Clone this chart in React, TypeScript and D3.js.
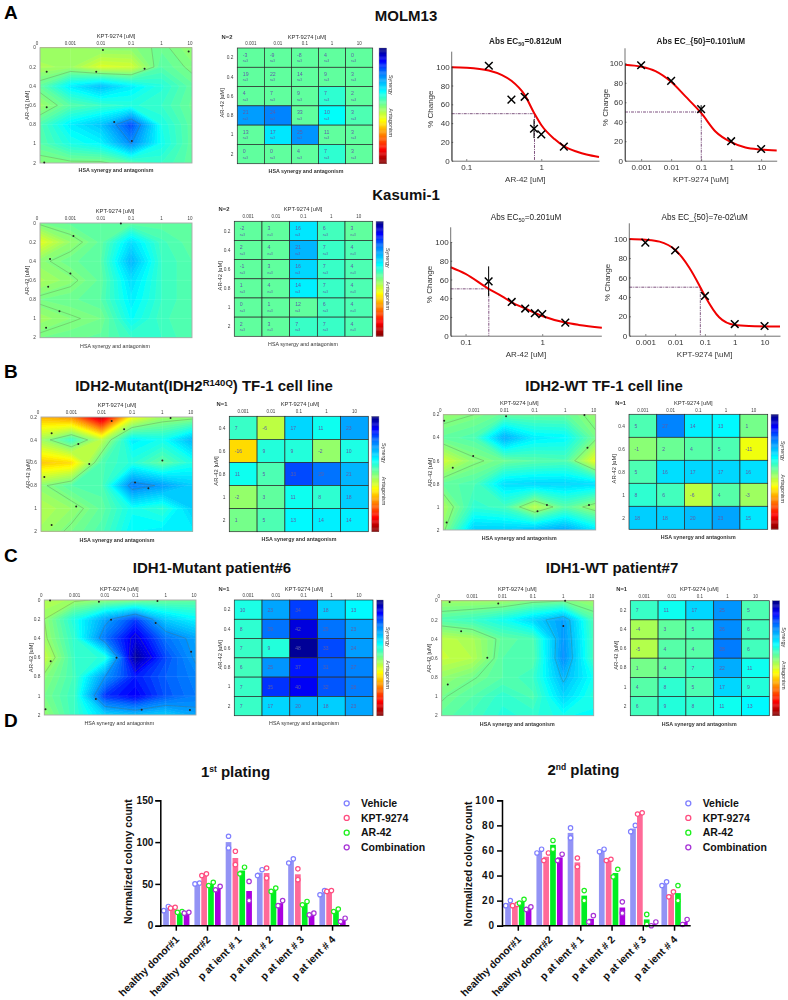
import React, { useLayoutEffect, useRef } from "react";
import * as d3 from "d3";

const FONT = "'Liberation Sans', Arial, sans-serif";

// ---------- synergy data (labels, then fill values where they differ) ----------
const kptCols = ["0.001", "0.01", "0.1", "1", "10"];
const kptColsZero = ["0", "0.001", "0.01", "0.1", "1", "10"];
const arRows6 = ["0.2", "0.4", "0.6", "0.8", "1", "2"];
const arRows5 = ["0.4", "0.6", "0.8", "1", "2"];
const arRows7 = ["0", "0.2", "0.4", "0.6", "0.8", "1", "2"];

const molmHeat = [[-3, -9, -8, 4, 0], [19, 22, 14, 9, 3], [4, 7, 9, 7, 2], [21, 24, 33, 10, 3], [13, 17, 25, 11, 3], [0, 0, 4, 7, 3]];
const molmFill = [[3, 3, 3, 3, 3], [3, 3, 3, 3, 3], [3, 3, 3, 8, 3], [24, 27, 3, 12, 5], [3, 15, 25, 3, 3], [3, 3, 3, 8, 3]];
const kasumiHeat = [[-2, 3, 16, 6, 3], [2, 4, 21, 7, 4], [-1, 3, 16, 7, 4], [1, 4, 14, 7, 4], [0, 1, 12, 6, 4], [2, 3, 7, 7, 4]];
const kasumiFill = [[3, 3, 15, 6, 3], [3, 3, 21, 7, 5], [3, 3, 17, 7, 5], [3, 3, 14, 7, 5], [3, 3, 3, 6, 5], [3, 3, 7, 7, 5]];
const tfMutHeat = [[7, -6, 17, 11, 23], [-16, 9, 9, -2, 10], [11, 5, 33, 29, 21], [-2, 3, 11, 8, 18], [1, 5, 13, 14, 14]];
const tfWtHeat = [[5, 27, 14, 13, 1], [-1, 2, 4, 5, -11], [5, 16, 17, 17, 16], [8, 6, -6, 4, -3], [18, 18, 20, 23, 15]];
const p6Heat = [[10, 23, 34, 18, 13], [8, 29, 42, 29, 23], [7, 9, 48, 33, 24], [6, 25, 37, 31, 27], [7, 35, 40, 32, 28], [7, 17, 20, 18, 23]];
const p7Heat = [[7, 11, 17, 25, 5], [-4, 3, 5, 26, 6], [-5, 4, 4, 28, 6], [1, 4, 7, 22, 11], [4, 8, 5, 17, 9], [6, 9, 8, 11, 13]];

const molmSurface = [[-2, -3, -1, -1, 2, -2], [-4, -3, -9, -8, 4, 0], [3, 14, 20, 14, 9, 3], [-3, 4, 7, 9, 7, 2], [5, 14, 19, 33, 10, 3], [4, 10, 13, 26, 11, 3], [-1, 0, 0, 4, 7, 3]];
const kasumiSurface = [[1, 3, 3, 3, 3, 3], [-10, -2, 3, 16, 6, 3], [-1, 2, 4, 21, 7, 4], [-4, -1, 3, 16, 7, 4], [1, 2, 4, 14, 7, 4], [-3, -0.5, 1, 12, 6, 4], [1, 2, 3, 7, 7, 4]];
const tfMutSurface = [[-20, -24, -45, -12, -3, -2], [-3, 7, -6, 14, 11, 21], [-18, -16, 5, 9, 3, 10], [-1, 4, 5, 28, 24, 18], [-5, -2, 3, 11, 8, 18], [-3, 1, 5, 13, 14, 14]];
const tfWtSurface = [[-2, 0, 3, 3, 3, -2], [3, 5, 22, 14, 13, 1], [-8, -1, 2, 4, 5, -11], [3, 5, 16, 17, 17, 16], [-4, 8, 6, -6, 4, -3], [-1, 18, 18, 20, 23, 15]];
const p6Surface = [[-5, -3, -1, 0, 2, 3], [-2, 10, 23, 34, 18, 13], [-3, 8, 29, 42, 29, 23], [-7, 7, 9, 48, 33, 24], [-1, 6, 25, 37, 31, 27], [1, 7, 35, 40, 32, 28], [-2, 7, 17, 20, 18, 23]];
const p7Surface = [[-3, -3, -3, 0, 1, -3], [5, 7, 11, 17, 24, 5], [-6, -4, 3, 5, 25, 6], [-7, -5, 4, 4, 26, 6], [-2, 1, 4, 7, 21, 11], [1, 4, 8, 5, 17, 9], [3, 6, 9, 8, 11, 13]];

// contour-label dots, in [column, row] grid units
const molmDots = [[.22, 1.25], [1.85, 1.25], [3.44, 1.1], [2.07, .12], [4.89, .2], [.22, 3.1], [.14, 5.97], [2.44, 3.86], [3.02, 4.86]];
const kasumiDots = [[1.1, .68], [.33, 1.88], [1, 2.64], [.27, 3.33], [.64, 4.62], [.2, 5.48], [2.66, .02]];
const tfMutDots = [[2.33, .17], [4.27, .04], [2.74, .54], [.35, .71], [1.23, 1.18], [1.59, 2.06], [.11, 2.62], [4, 1.9], [3.1, 2.87], [3.54, 3.12], [1.16, 3.92], [.35, 4.72]];
const tfWtDots = [[.03, .26], [2.06, .07], [4.63, .01], [.98, 1.79], [.31, 2.3], [4.73, 1.43], [3.4, 3.92], [3.09, 4.19], [4.78, 3.92], [.11, 4.68]];
const p6Dots = [[.19, .02], [1.8, .09], [3.73, .05], [2.2, 1.03], [3.67, 1.2], [2.38, 3.01], [4.84, 2.7], [.21, 3.2], [1.7, 5.17], [.04, 5.7], [3.21, 5.72], [4.8, 5.74]];
const p7Dots = [[.26, .07], [1.86, .14], [4.06, 0], [.64, 1.6], [1.5, 2.97], [.2, 4.37], [4, 1.32]];

// ---------- dose response ----------
const molmArPts = [[.2, 101, 0], [.4, 65, 0], [.6, 68, 0], [.8, 34, 10], [1, 28, 0], [2, 15, 0]];
const molmArCurve = [[.064, 99.5], [.1, 99], [.2, 96], [.3, 91], [.4, 85], [.6, 70], [.812, 50], [1, 38], [1.5, 23], [2, 15.5], [3, 9.5], [4, 6.5], [5.88, 4]];
const molmKptPts = [[.001, 98, 0], [.01, 82, 0], [.1, 53, 4], [1, 20, 0], [10, 12, 0]];
const molmKptCurve = [[.00029, 98.5], [.001, 96.5], [.003, 92], [.01, 81], [.03, 66], [.1, 49], [.3, 30], [1, 19], [3, 13.5], [10, 11.5], [33, 10.5]];
const kasArPts = [[.2, 58, 16], [.4, 36, 0], [.6, 29, 0], [.8, 24, 0], [1, 23, 0], [2, 14, 0]];
const kasArCurve = [[.064, 73], [.1, 66], [.2, 50], [.3, 42], [.4, 35.5], [.6, 29], [1, 21], [2, 14], [3, 11.5], [6, 8.5]];
const kasKptPts = [[.001, 96, 0], [.01, 88, 0], [.1, 41, 0], [1, 12, 0], [10, 10, 0]];
const kasKptCurve = [[.00029, 99.8], [.001, 99], [.003, 97], [.01, 88.5], [.03, 70], [.07, 50], [.1, 41], [.3, 19], [1, 11], [3, 10], [33, 9.5]];
const arTicks = [0.1, 1];
const kptTicks = [0.001, 0.01, 0.1, 1, 10];
const pctTicks = [0, 20, 40, 60, 80, 100];

// ---------- colony assays ----------
const groups = ["healthy donor#1", "healthy donor#2", "p at ient # 1", "p at ient # 2", "p at ient # 3", "p at ient # 4"];
const treatments = ["Vehicle", "KPT-9274", "AR-42", "Combination"];
const barColors = ["#9393f5", "#ff6a98", "#00ee22", "#aa00e0"];
const dotColors = ["#7f7fff", "#ff4d80", "#1cf01c", "#a733d6"];
const firstVehicle = [[18, 23], [50, 51], [93, 107], [60, 67], [75, 80], [37, 42]];
const firstKpt = [[21, 22], [60, 62], [73, 89], [57, 69], [55, 68], [41, 42]];
const firstAr = [[16, 17], [48, 52], [62, 70], [41, 45], [25, 29], [17, 20]];
const firstCombo = [[15, 16], [43, 47], [30, 53], [24, 30], [13, 15], [5, 9]];
const secondVehicle = [[16, 20], [58, 61], [70, 78], [59, 61], [75, 80], [32, 35]];
const secondKpt = [[16, 17], [52, 58], [47, 54], [52, 53], [89, 90], [23, 27]];
const secondAr = [[18, 21], [61, 68], [20, 28], [39, 45], [1, 9], [20, 32]];
const secondCombo = [[13, 15], [52, 57], [3, 8], [10, 19], [0, 3], [1, 5]];

// ---------- helpers ----------
function jetChannel(t: number) {
  return Math.max(0, Math.min(1, 1.5 - Math.abs(4 * t)));
}
const colourWarp = d3.scaleLinear().domain([-50, 14, 30, 50]).range([-50, 14, 27, 50]);
function jet(v: number) {
  const t = (50 - colourWarp(v)) / 100;
  const r = jetChannel(t - 0.75);
  const g = jetChannel(t - 0.5);
  const b = jetChannel(t - 0.25);
  return d3.rgb(r * 255, g * 255, b * 255).formatHex();
}

function Axis({ axis, transform, decorate }: any) {
  const ref = useRef<SVGGElement>(null);
  useLayoutEffect(() => {
    const g = d3.select(ref.current!);
    g.call(axis);
    if (decorate) decorate(g);
  });
  return <g ref={ref} transform={transform} />;
}

let clipId = 0;

function SynergyContour({ surface, yLabels, dots, levels, x0, x1, y0, y1, bold, titleY, tickY, captionY, yLabelX, titleX }: any) {
  const nx = 6;
  const ny = surface.length;
  const values = surface.flat();
  const sx = d3.scaleLinear().domain([0.5, nx - 0.5]).range([x0, x1]);
  const sy = d3.scaleLinear().domain([0.5, ny - 0.5]).range([y0, y1]);
  const tx = d3.scalePoint<string>().domain(kptColsZero).range([x0, x1]);
  const ty = d3.scalePoint<string>().domain(yLabels).range([y0, y1]);
  const path = d3.geoPath(d3.geoTransform({ point(x: number, y: number) { (this as any).stream.point(sx(x), sy(y)); } }));
  const bands = d3.contours().size([nx, ny]).thresholds(d3.range(-50, 50, 1.5))(values);
  const lines = d3.contours().size([nx, ny]).thresholds(levels)(values);
  const id = `clip-${clipId++}`;
  const cx = (x0 + x1) / 2;
  return (
    <g>
      <clipPath id={id}><rect x={x0} y={y0} width={x1 - x0} height={y1 - y0} /></clipPath>
      <g clipPath={`url(#${id})`}>
        <rect x={x0} y={y0} width={x1 - x0} height={y1 - y0} fill={jet(d3.min(values) as number)} />
        {bands.map((b: any, i: number) => (
          <path key={i} d={path(b) as string} fill={jet(b.value + 0.75)} stroke="#ffffff" strokeOpacity={0.13} strokeWidth={0.3} />
        ))}
        {tx.domain().map((d) => <line key={d} x1={tx(d)} x2={tx(d)} y1={y0} y2={y1} stroke="#fff" strokeOpacity={0.18} strokeWidth={0.5} />)}
        {ty.domain().map((d) => <line key={d} x1={x0} x2={x1} y1={ty(d)} y2={ty(d)} stroke="#fff" strokeOpacity={0.18} strokeWidth={0.5} />)}
        {lines.map((b: any, i: number) => (
          <path key={i} d={path(b) as string} fill="none" stroke="#5a5a3c" strokeOpacity={0.45} strokeWidth={0.6} />
        ))}
      </g>
      <rect x={x0} y={y0} width={x1 - x0} height={y1 - y0} fill="none" stroke="#a8a8a8" strokeWidth={0.9} />
      {dots.map((d: number[], i: number) => <circle key={i} cx={sx(d[0] + 0.5)} cy={sy(d[1] + 0.5)} r={1} fill="#222" />)}
      {tx.domain().map((d, i) => (
        <text key={d} x={(tx(d) as number) + (i === 0 ? -3 : i === 5 ? -2 : 0)} y={tickY} fontSize={4.5} textAnchor="middle" fill="#444">{d}</text>
      ))}
      {ty.domain().map((d) => (
        <text key={d} x={x0 - 4} y={(ty(d) as number) + 1.7} fontSize={4.8} textAnchor="end" fill="#444">{d}</text>
      ))}
      <text x={titleX ?? cx} y={titleY} fontSize={5.8} textAnchor="middle" fill="#333">KPT-9274 [uM]</text>
      <text x={titleX ?? cx} y={captionY} fontSize={5.3} fontWeight={bold ? 700 : 400} textAnchor="middle" fill="#333">HSA synergy and antagonism</text>
      <text transform={`translate(${yLabelX},${(y0 + y1) / 2}) rotate(-90)`} fontSize={5.8} textAnchor="middle" fill="#333">AR-42 [uM]</text>
    </g>
  );
}

function SynergyHeat({ values, fill, yLabels, showN, nLabel, x0, x1, y0, y1, bx0, bx1, titleX, titleY, tickY, captionX, captionY, nX, bold, yLabelX }: any) {
  const cols = d3.scaleBand<string>().domain(kptCols).range([x0, x1]);
  const rows = d3.scaleBand<string>().domain(yLabels).range([y0, y1]);
  const colours = fill ?? values;
  const bar = d3.scaleLinear().domain([-50, 50]).range([y1, y0]);
  const stops = d3.range(-50, 50, 1);
  const barMid = (y0 + y1) / 2;
  return (
    <g>
      {yLabels.map((r: string, j: number) => kptCols.map((c, i) => (
        <g key={r + c}>
          <rect x={cols(c)} y={rows(r)} width={cols.bandwidth()} height={rows.bandwidth()} fill={jet(colours[j][i])} stroke="#2a2a2a" strokeWidth={0.7} />
          <text x={(cols(c) as number) + 5.5} y={(rows(r) as number) + (showN ? 8.5 : rows.bandwidth() / 2 + 2)} fontSize={showN ? 5.2 : 5} fill="#5d5da8">{values[j][i]}</text>
          {showN && <text x={(cols(c) as number) + 5.5} y={(rows(r) as number) + 14.2} fontSize={3} fill="#5d5da8">{nLabel}</text>}
        </g>
      )))}
      {stops.map((v) => (
        <rect key={v} x={bx0} width={bx1 - bx0} y={bar(v + 1)} height={Math.abs(bar(v) - bar(v + 1)) + 0.3} fill={jet(v + 0.5)} />
      ))}
      <rect x={bx0} y={y0} width={bx1 - bx0} height={y1 - y0} fill="none" stroke="#999" strokeWidth={0.4} />
      <text transform={`translate(${bx1 + 2.5},${barMid - 21}) rotate(90)`} fontSize={5.4} textAnchor="middle" fill="#333">Synergy</text>
      <text transform={`translate(${bx1 + 2.5},${barMid + 17}) rotate(90)`} fontSize={5.4} textAnchor="middle" fill="#333">Antagonism</text>
      {kptCols.map((c) => <text key={c} x={(cols(c) as number) + cols.bandwidth() / 2} y={tickY} fontSize={4.5} textAnchor="middle" fill="#444">{c}</text>)}
      {yLabels.map((r: string) => <text key={r} x={x0 - 4} y={(rows(r) as number) + rows.bandwidth() / 2 + 1.7} fontSize={4.8} textAnchor="end" fill="#444">{r}</text>)}
      <text x={titleX} y={titleY} fontSize={5.8} textAnchor="middle" fill="#333">KPT-9274 [uM]</text>
      <text x={nX} y={titleY} fontSize={5.8} fontWeight={700} textAnchor="middle" fill="#333">{showN ? "N=2" : "N=1"}</text>
      <text x={captionX} y={captionY} fontSize={5.3} fontWeight={bold ? 700 : 400} textAnchor="middle" fill="#333">HSA synergy and antagonism</text>
      <text transform={`translate(${yLabelX},${(y0 + y1) / 2 - 3}) rotate(-90)`} fontSize={5.8} textAnchor="middle" fill="#333">AR-42 [uM]</text>
    </g>
  );
}

function DoseResponse({ curve, pts, ec50, ticks, xDomain, x0, x1, yBottom, y100, yTop, label, title, titleY, labelY, yLabelX, bold }: any) {
  const x = d3.scaleLog().domain(xDomain).range([x0, x1]);
  const y = d3.scaleLinear().domain([0, 100]).range([yBottom, y100]);
  const line = d3.line<number[]>().x((d) => x(d[0])).y((d) => y(d[1])).curve(d3.curveMonotoneX);
  const cross = d3.symbol(d3.symbolTimes, 40);
  const decorate = (g: any) => {
    g.selectAll("text").attr("font-size", 8).attr("fill", "#333").attr("font-family", FONT);
    g.selectAll("line,path").attr("stroke", "#333").attr("stroke-width", 0.7);
    g.attr("font-family", FONT);
  };
  const cx = (x0 + x1) / 2;
  const xAxis = d3.axisBottom(x).tickValues(ticks).tickSizeInner(-1.5).tickSizeOuter(0).tickPadding(4).tickFormat((d: any) => String(d));
  const yAxis = d3.axisLeft(y).tickValues(pctTicks).tickSizeInner(-1.5).tickSizeOuter(0).tickPadding(2);
  return (
    <g>
      <path d={`M${x0},${y(50)}H${x(ec50)}V${yBottom}`} fill="none" stroke="#5e2a60" strokeWidth={0.8} strokeDasharray="3 1 1 1" />
      <path d={line(curve) as string} fill="none" stroke="#f00000" strokeWidth={2} />
      {pts.map((p: number[], i: number) => (
        <g key={i}>
          {p[2] > 0 && <line x1={x(p[0])} x2={x(p[0])} y1={y(p[1] - p[2])} y2={y(p[1] + p[2])} stroke="#000" strokeWidth={1} />}
          <path d={cross() as string} transform={`translate(${x(p[0])},${y(p[1])})`} stroke="#000" strokeWidth={1.5} fill="none" />
        </g>
      ))}
      <Axis axis={xAxis} transform={`translate(0,${yBottom})`} decorate={decorate} />
      <Axis axis={yAxis} transform={`translate(${x0},0)`} decorate={decorate} />
      <line x1={x0} x2={x0} y1={yBottom} y2={yTop} stroke="#333" strokeWidth={0.7} />
      <text x={cx} y={titleY} fontSize={8.2} textAnchor="middle" fontWeight={bold ? 700 : 400} fill="#222">{title}</text>
      <text x={cx} y={labelY} fontSize={8} textAnchor="middle" fill="#333">{label}</text>
      <text transform={`translate(${yLabelX},${(yBottom + yTop) / 2 + 3}) rotate(-90)`} fontSize={8} textAnchor="middle" fill="#333">% Change</text>
    </g>
  );
}

function ColonyBars({ series, max, ticks, axisX, axisEnd, firstCenter, spread }: any) {
  const yBottom = 925.7;
  const yTop = 800.3;
  const step = 31.25;
  const y = d3.scaleLinear().domain([0, max]).range([yBottom, yTop]);
  const x = d3.scaleBand<string>().domain(groups).range([firstCenter - step / 2, firstCenter - step / 2 + step * 6]);
  const inner = d3.scaleBand<string>().domain(treatments).range([-13.7, 13.7]).paddingInner(0.17).paddingOuter(0.085);
  const bw = inner.bandwidth();
  const yAxis = d3.axisLeft(y).tickValues(ticks).tickSize(5).tickPadding(2).tickFormat((d: any) => String(d));
  const xAxis = d3.axisBottom(x).tickSize(5).tickPadding(4);
  const decorateY = (g: any) => {
    g.attr("font-family", FONT);
    g.selectAll("text").attr("font-size", 10).attr("font-weight", 700).attr("fill", "#111").attr("letter-spacing", spread);
    g.selectAll("line,path").attr("stroke", "#000").attr("stroke-width", 1.5);
  };
  const decorateX = (g: any) => {
    g.attr("font-family", FONT);
    g.selectAll("text").attr("font-size", 10.4).attr("font-weight", 700).attr("fill", "#111")
      .attr("text-anchor", "end").attr("x", 0).attr("y", 0).attr("dy", "0.35em").attr("transform", "translate(1,12) rotate(-45)");
    g.selectAll("line").attr("stroke", "#000").attr("stroke-width", 1.5);
    g.select(".domain").attr("stroke", "#000").attr("stroke-width", 1.5).attr("d", `M${axisX},0H${axisEnd}`);
  };
  return (
    <g>
      {series.map((s: number[][], k: number) => groups.map((g, i) => {
        const cx = (x(g) as number) + step / 2 + (inner(treatments[k]) as number) + bw / 2;
        const m = d3.mean(s[i]) as number;
        const sideBySide = Math.abs(y(s[i][0]) - y(s[i][1])) < 8;
        return (
          <g key={g + k}>
            <rect x={cx - bw / 2} y={y(m)} width={bw} height={yBottom - y(m)} fill={barColors[k]} />
            {s[i].map((v, j) => (
              <circle key={j} cx={cx + (sideBySide ? (j === 0 ? -2.3 : 2.3) : 0)} cy={y(v)} r={2.2} fill="#fff" stroke={dotColors[k]} strokeWidth={1.2} />
            ))}
          </g>
        );
      }))}
      <Axis axis={xAxis} transform={`translate(0,${yBottom})`} decorate={decorateX} />
      <Axis axis={yAxis} transform={`translate(${axisX},0)`} decorate={decorateY} />
    </g>
  );
}

function Legend({ cx, tx }: any) {
  const y = d3.scalePoint<string>().domain(treatments).range([803.3, 847.3]);
  return (
    <g>
      {treatments.map((t, k) => (
        <g key={t}>
          <circle cx={cx} cy={y(t)} r={2.5} fill="#fff" stroke={dotColors[k]} strokeWidth={1.3} />
          <text x={tx} y={(y(t) as number) + 3.6} fontSize={10.5} fontWeight={700} fill="#111">{t}</text>
        </g>
      ))}
    </g>
  );
}

const Heading = ({ x, y, children, size = 15 }: any) => (
  <text x={x} y={y} fontSize={size} fontWeight={700} textAnchor="middle" fill="#111">{children}</text>
);
const Letter = ({ x, y, children }: any) => (
  <text x={x} y={y} fontSize={19} fontWeight={700} fill="#000">{children}</text>
);

export default function App() {
  return (
    <svg width={788} height={1000} viewBox="0 0 788 1000" style={{ position: "absolute", left: 0, top: 0, background: "#fff" }} fontFamily={FONT}>
      <defs>
        <filter id="soft" filterUnits="userSpaceOnUse" x={0} y={0} width={788} height={730}>
          <feGaussianBlur stdDeviation={0.3} />
        </filter>
      </defs>

      <Letter x={4} y={19}>A</Letter>
      <Letter x={4} y={378}>B</Letter>
      <Letter x={4} y={562}>C</Letter>
      <Letter x={4} y={727}>D</Letter>
      <Heading x={406} y={21}>MOLM13</Heading>
      <Heading x={406} y={200}>Kasumi-1</Heading>
      <Heading x={204} y={391}>IDH2-Mutant(IDH2<tspan fontSize={9.5} dy={-5.5}>R140Q</tspan><tspan dy={5.5}>)  TF-1 cell line</tspan></Heading>
      <Heading x={604} y={391}>IDH2-WT TF-1 cell line</Heading>
      <Heading x={212} y={572.7}>IDH1-Mutant patient#6</Heading>
      <Heading x={612} y={572.7}>IDH1-WT patient#7</Heading>

      <g filter="url(#soft)">
        <SynergyContour surface={molmSurface} yLabels={arRows7} dots={molmDots} levels={[1, 26]} x0={40} x1={192} y0={47.7} y1={163} bold titleY={38} tickY={44.5} captionY={172} yLabelX={29} />
        <SynergyHeat values={molmHeat} fill={molmFill} yLabels={arRows6} showN nLabel="n=3" x0={237.3} x1={372.7} y0={48} y1={163.7} bx0={379} bx1={386.7} titleX={307} titleY={38.5} tickY={44.5} captionX={306} captionY={173} nX={227} bold yLabelX={224} />
        <DoseResponse curve={molmArCurve} pts={molmArPts} ec50={0.812} ticks={arTicks} xDomain={[0.064, 5.88]} x0={451.7} x1={599} yBottom={160.7} y100={66.7} yTop={51.7} label="AR-42 [uM]" title={<>Abs EC<tspan fontSize={5.6} dy={2}>50</tspan><tspan dy={-2}>=0.812uM</tspan></>} titleY={44} labelY={181.5} yLabelX={433} bold />
        <DoseResponse curve={molmKptCurve} pts={molmKptPts} ec50={0.101} ticks={kptTicks} xDomain={[0.00029, 33]} x0={625} x1={776.7} yBottom={160.7} y100={63.3} yTop={48.3} label="KPT-9274 [\uM]" title="Abs EC_{50}=0.101\uM" titleY={44} labelY={181.5} yLabelX={607.5} bold />

        <SynergyContour surface={kasumiSurface} yLabels={arRows7} dots={kasumiDots} levels={[0]} x0={40} x1={192} y0={223} y1={337.7} titleY={213} tickY={220} captionY={347.5} yLabelX={29} titleX={115} />
        <SynergyHeat values={kasumiHeat} fill={kasumiFill} yLabels={arRows6} showN nLabel="n=3" x0={234.3} x1={372.7} y0={221.3} y1={336.3} bx0={376} bx1={383.3} titleX={303} titleY={211} tickY={218} captionX={303} captionY={346} nX={224} yLabelX={222} />
        <DoseResponse curve={kasArCurve} pts={kasArPts} ec50={0.201} ticks={arTicks} xDomain={[0.064, 5.9]} x0={450.7} x1={601.3} yBottom={335.7} y100={242} yTop={227.3} label="AR-42 [uM]" title={<>Abs EC<tspan fontSize={5.6} dy={2}>50</tspan><tspan dy={-2}>=0.201uM</tspan></>} titleY={219.5} labelY={356.5} yLabelX={432} />
        <DoseResponse curve={kasKptCurve} pts={kasKptPts} ec50={0.07} ticks={kptTicks} xDomain={[0.00029, 33]} x0={629.3} x1={780} yBottom={335.7} y100={238.7} yTop={223.3} label="KPT-9274 [\uM]" title="Abs EC_{50}=7e-02\uM" titleY={219.5} labelY={356.5} yLabelX={610} />

        <SynergyContour surface={tfMutSurface} yLabels={arRows6} dots={tfMutDots} levels={[0, 25]} x0={41} x1={192.7} y0={417} y1={531.3} bold titleY={407} tickY={413.5} captionY={541.5} yLabelX={30} titleX={117} />
        <SynergyHeat values={tfMutHeat} yLabels={arRows5} x0={229.3} x1={368.3} y0={416.3} y1={531.7} bx0={371.7} bx1={379} titleX={300} titleY={406} tickY={413} captionX={299} captionY={541} nX={222} bold yLabelX={218} />
        <SynergyContour surface={tfWtSurface} yLabels={arRows6} dots={tfWtDots} levels={[0]} x0={443.3} x1={595.7} y0={414.7} y1={530} bold titleY={405} tickY={411.5} captionY={539.5} yLabelX={432} titleX={519.3} />
        <SynergyHeat values={tfWtHeat} yLabels={arRows5} x0={629} x1={767.7} y0={414.3} y1={529.3} bx0={771} bx1={778.3} titleX={693.3} titleY={405} tickY={411.5} captionX={698.3} captionY={539} nX={620.7} bold yLabelX={616} />

        <SynergyContour surface={p6Surface} yLabels={arRows7} dots={p6Dots} levels={[-2, 25, 40]} x0={44.3} x1={196} y0={600} y1={715} titleY={590.7} tickY={596.8} captionY={725.3} yLabelX={33} titleX={119.3} />
        <SynergyHeat values={p6Heat} yLabels={arRows6} x0={234.3} x1={373} y0={600} y1={715.7} bx0={376.7} bx1={383.3} titleX={304} titleY={590.7} tickY={597} captionX={304} captionY={725.3} nX={224} yLabelX={222} />
        <SynergyContour surface={p7Surface} yLabels={arRows7} dots={p7Dots} levels={[1.5, 20]} x0={441.7} x1={593.7} y0={600.7} y1={715.7} bold titleY={590.7} tickY={597.6} captionY={725.7} yLabelX={431} titleX={517.3} />
        <SynergyHeat values={p7Heat} yLabels={arRows6} x0={630.3} x1={769.3} y0={600.7} y1={715.7} bx0={772.3} bx1={779.7} titleX={699.3} titleY={591} tickY={598} captionX={699.3} captionY={725.7} nX={621.7} bold yLabelX={618} />
      </g>

      <text x={235.5} y={777.3} fontSize={15} fontWeight={700} textAnchor="middle" fill="#111">1<tspan fontSize={8.5} dy={-5}>st</tspan><tspan dy={5}> plating</tspan></text>
      <text x={583.5} y={775} fontSize={15} fontWeight={700} textAnchor="middle" fill="#111">2<tspan fontSize={8.5} dy={-5}>nd</tspan><tspan dy={5}> plating</tspan></text>
      <text transform="translate(132,861.7) rotate(-90)" fontSize={10.5} fontWeight={700} textAnchor="middle" fill="#111">Normalized colony count</text>
      <text transform="translate(471.5,864) rotate(-90)" fontSize={10.5} fontWeight={700} textAnchor="middle" fill="#111">Normalized colony count</text>
      <ColonyBars series={[firstVehicle, firstKpt, firstAr, firstCombo]} max={150} ticks={[0, 50, 100, 150]} axisX={160.3} axisEnd={349.3} firstCenter={176.3} spread={0} />
      <ColonyBars series={[secondVehicle, secondKpt, secondAr, secondCombo]} max={100} ticks={[0, 20, 40, 60, 80, 100]} axisX={502} axisEnd={690.7} firstCenter={518.3} spread={1} />
      <Legend cx={346.7} tx={361} />
      <Legend cx={688.3} tx={702.7} />
    </svg>
  );
}
